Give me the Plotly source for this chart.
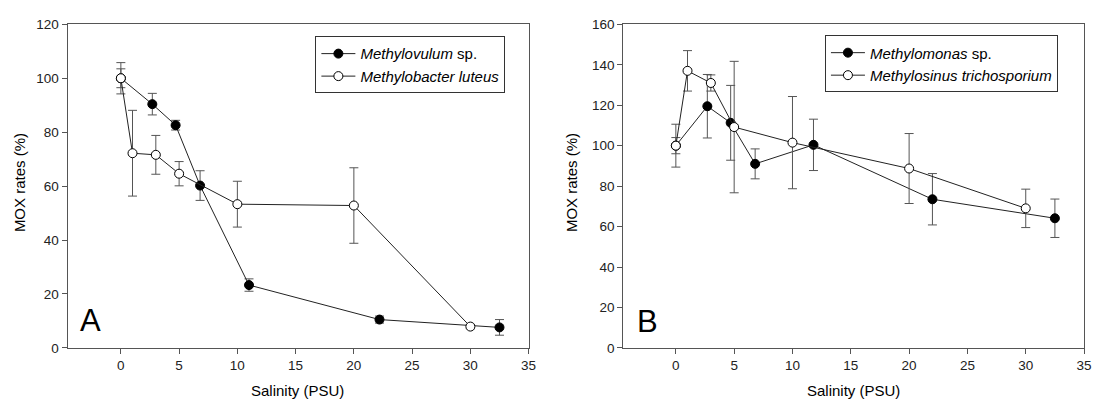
import plotly.graph_objects as go

# ---------------- data ----------------
# Panel A
sal_A_filled = [0, 2.7, 4.7, 6.8, 11, 22.2, 32.5]
mox_A_filled = [100, 90.4, 82.6, 60.2, 23.3, 10.5, 7.6]
err_A_filled = [3.5, 4.0, 1.8, 5.5, 2.3, 1.3, 2.9]

sal_A_open = [0, 1, 3, 5, 10, 20, 30]
mox_A_open = [100, 72.2, 71.6, 64.6, 53.3, 52.8, 7.9]
err_A_open = [5.8, 15.9, 7.2, 4.5, 8.5, 14.0, 0.8]

# Panel B
sal_B_filled = [0, 2.7, 4.7, 6.8, 11.8, 22, 32.5]
mox_B_filled = [100, 119.5, 111.3, 91.0, 100.4, 73.5, 64.1]
err_B_filled = [10.6, 15.7, 18.5, 7.4, 12.7, 12.7, 9.5]

sal_B_open = [0, 1, 3, 5, 10, 20, 30]
mox_B_open = [100, 137, 131, 109.2, 101.5, 88.7, 69]
err_B_open = [4, 10, 4, 32.5, 22.8, 17.3, 9.5]

names_A = ["<i>Methylovulum</i> sp.", "<i>Methylobacter luteus</i>"]
names_B = ["<i>Methylomonas</i> sp.", "<i>Methylosinus trichosporium</i>"]

x_ticks = [0, 5, 10, 15, 20, 25, 30, 35]
y_ticks_A = [0, 20, 40, 60, 80, 100, 120]
y_ticks_B = [0, 20, 40, 60, 80, 100, 120, 140, 160]

# ---------------- figure ----------------
W, H = 1099, 405
FONT = "Liberation Sans, Arial, sans-serif"
AX = "#555555"
LINE = "#222222"
ERR = "#555555"

fig = go.Figure()


def add_series(x, y, err, name, filled, xa, ya, legend):
    fig.add_trace(go.Scatter(
        x=x, y=y, name=name, mode="lines+markers",
        xaxis=xa, yaxis=ya, legend=legend,
        line=dict(color=LINE, width=1),
        marker=dict(symbol="circle", size=9,
                    color="black" if filled else "white",
                    line=dict(color="black", width=1)),
        error_y=dict(type="data", array=err, visible=True,
                     color=ERR, thickness=1, width=4.5),
    ))


add_series(sal_A_filled, mox_A_filled, err_A_filled, names_A[0], True, "x", "y", "legend")
add_series(sal_A_open, mox_A_open, err_A_open, names_A[1], False, "x", "y", "legend")
add_series(sal_B_filled, mox_B_filled, err_B_filled, names_B[0], True, "x2", "y2", "legend2")
add_series(sal_B_open, mox_B_open, err_B_open, names_B[1], False, "x2", "y2", "legend2")

ybot = 1 - 354 / H
ytop = 1 - 18 / H

axis_common = dict(
    showline=True, linecolor=AX, linewidth=1, mirror=True,
    ticks="outside", ticklen=5, tickcolor=AX, tickwidth=1,
    showgrid=False, zeroline=False,
    tickfont=dict(family=FONT, size=13.5, color="#222222"),
)

legend_common = dict(
    xanchor="left", yanchor="top",
    bordercolor="#333333", borderwidth=1, bgcolor="white",
    font=dict(family=FONT, size=15, color="black"),
    tracegroupgap=0, itemwidth=34,
)

fig.update_layout(
    width=W, height=H,
    margin=dict(l=0, r=0, t=0, b=0),
    paper_bgcolor="white", plot_bgcolor="white",
    xaxis=dict(domain=[68 / W, 532.5 / W], range=[-4.58, 35],
               tickvals=x_ticks, anchor="y", **axis_common),
    yaxis=dict(domain=[ybot, ytop], range=[0, 120],
               tickvals=y_ticks_A, anchor="x", **axis_common),
    xaxis2=dict(domain=[627.7 / W, 1092 / W], range=[-4.52, 35],
                tickvals=x_ticks, anchor="y2", **axis_common),
    yaxis2=dict(domain=[ybot, ytop], range=[0, 160],
                tickvals=y_ticks_B, anchor="x2", **axis_common),
    legend=dict(x=317.7 / W, y=1 - 30.5 / H, **legend_common),
    legend2=dict(x=831 / W, y=1 - 29.5 / H, **legend_common),
    showlegend=True,
)

ann_font = dict(family=FONT, size=15, color="black")
annotations = [
    dict(text="Salinity (PSU)", x=300 / W, y=1 - 398 / H, xref="paper", yref="paper",
         showarrow=False, font=ann_font, xanchor="center", yanchor="middle"),
    dict(text="Salinity (PSU)", x=860 / W, y=1 - 398 / H, xref="paper", yref="paper",
         showarrow=False, font=ann_font, xanchor="center", yanchor="middle"),
    dict(text="MOX rates (%)", x=19 / W, y=1 - 182 / H, xref="paper", yref="paper",
         showarrow=False, font=ann_font, textangle=-90, xanchor="center", yanchor="middle"),
    dict(text="MOX rates (%)", x=575 / W, y=1 - 182 / H, xref="paper", yref="paper",
         showarrow=False, font=ann_font, textangle=-90, xanchor="center", yanchor="middle"),
    dict(text="A", x=91 / W, y=1 - 326 / H, xref="paper", yref="paper",
         showarrow=False, font=dict(family=FONT, size=31, color="black"),
         xanchor="center", yanchor="middle"),
    dict(text="B", x=652 / W, y=1 - 327 / H, xref="paper", yref="paper",
         showarrow=False, font=dict(family=FONT, size=31, color="black"),
         xanchor="center", yanchor="middle"),
]
fig.update_layout(annotations=annotations)

fig.write_html("out.html")
